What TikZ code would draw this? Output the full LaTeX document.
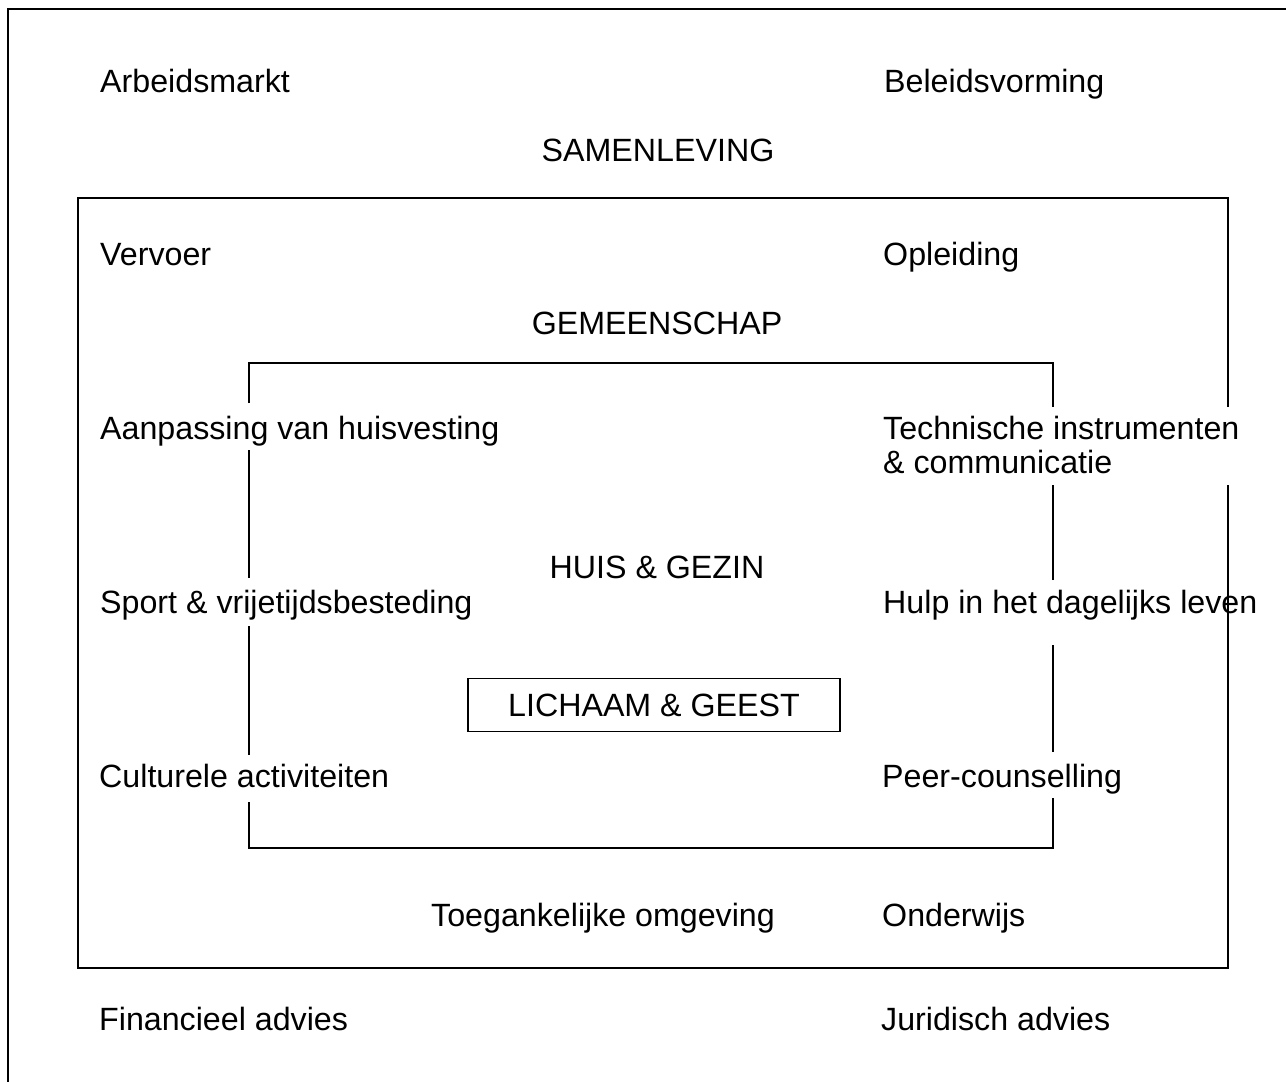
\documentclass[tikz,border=0pt]{standalone}
\usepackage{fontspec}
\setmainfont{Liberation Sans}
\begin{document}
\begin{tikzpicture}[x=1pt,y=-1pt,
  lbl/.style={anchor=base west,inner sep=0pt,font=\fontsize{32.2}{34}\selectfont},
  ttl/.style={anchor=base,inner sep=0pt,font=\fontsize{32.2}{34}\selectfont},
  frame/.style={line width=2pt,line cap=butt}]
\useasboundingbox (0,0) rectangle (1286,1082);
% outer frame (top and left only)
\coordinate (otr) at (1286,9);
\coordinate (otl) at (8,9);
\coordinate (obl) at (8,1082);
\draw[frame] (otr) -- (otl) -- (obl);
% middle box
\coordinate (m1) at (1228,407);
\coordinate (m2) at (1228,198);
\coordinate (m3) at (78,198);
\coordinate (m4) at (78,968);
\coordinate (m5) at (1228,968);
\coordinate (m6) at (1228,485);
\draw[frame] (m1) -- (m2) -- (m3) -- (m4) -- (m5) -- (m6);
% inner box with gaps
\coordinate (i1) at (249,403);
\coordinate (i2) at (249,363);
\coordinate (i3) at (1053,363);
\coordinate (i4) at (1053,407);
\draw[frame] (i1) -- (i2) -- (i3) -- (i4);
\coordinate (l1) at (249,450); \coordinate (l2) at (249,578);
\coordinate (l3) at (249,626); \coordinate (l4) at (249,755);
\coordinate (l5) at (249,802); \coordinate (l6) at (249,848);
\coordinate (r1) at (1053,485); \coordinate (r2) at (1053,580);
\coordinate (r3) at (1053,645); \coordinate (r4) at (1053,752);
\coordinate (r5) at (1053,798); \coordinate (r6) at (1053,848);
\draw[frame] (l1) -- (l2);
\draw[frame] (l3) -- (l4);
\draw[frame] (l5) -- (l6) -- (r6) -- (r5);
\draw[frame] (r4) -- (r3);
\draw[frame] (r2) -- (r1);
% labels
\node[lbl] (arb) at (100,92) {Arbeidsmarkt};
\node[lbl] (bel) at (884,92) {Beleidsvorming};
\node[ttl] (sam) at (658,161) {SAMENLEVING};
\node[lbl] (ver) at (100,265) {Vervoer};
\node[lbl] (opl) at (883,265) {Opleiding};
\node[ttl] (gem) at (657,334) {GEMEENSCHAP};
\node[lbl] (aan) at (100,439) {Aanpassing van huisvesting};
\node[lbl] (tec) at (883,439) {Technische instrumenten};
\node[lbl] (com) at (883,473) {\& communicatie};
\node[ttl] (hui) at (657,578) {HUIS \& GEZIN};
\node[lbl] (spo) at (100,613) {Sport \& vrijetijdsbesteding};
\node[lbl] (hul) at (883,613) {Hulp in het dagelijks leven};
\node[draw,line width=1.6pt,minimum width=372pt,minimum height=53pt,inner sep=0pt,
      font=\fontsize{32.2}{34}\selectfont] (lic) at (654,705) {LICHAAM \& GEEST};
\node[lbl] (cul) at (99,787) {Culturele activiteiten};
\node[lbl] (pee) at (882,787) {Peer-counselling};
\node[lbl] (toe) at (431,926) {Toegankelijke omgeving};
\node[lbl] (ond) at (882,926) {Onderwijs};
\node[lbl] (fin) at (99,1030) {Financieel advies};
\node[lbl] (jur) at (881,1030) {Juridisch advies};
\end{tikzpicture}
\end{document}
